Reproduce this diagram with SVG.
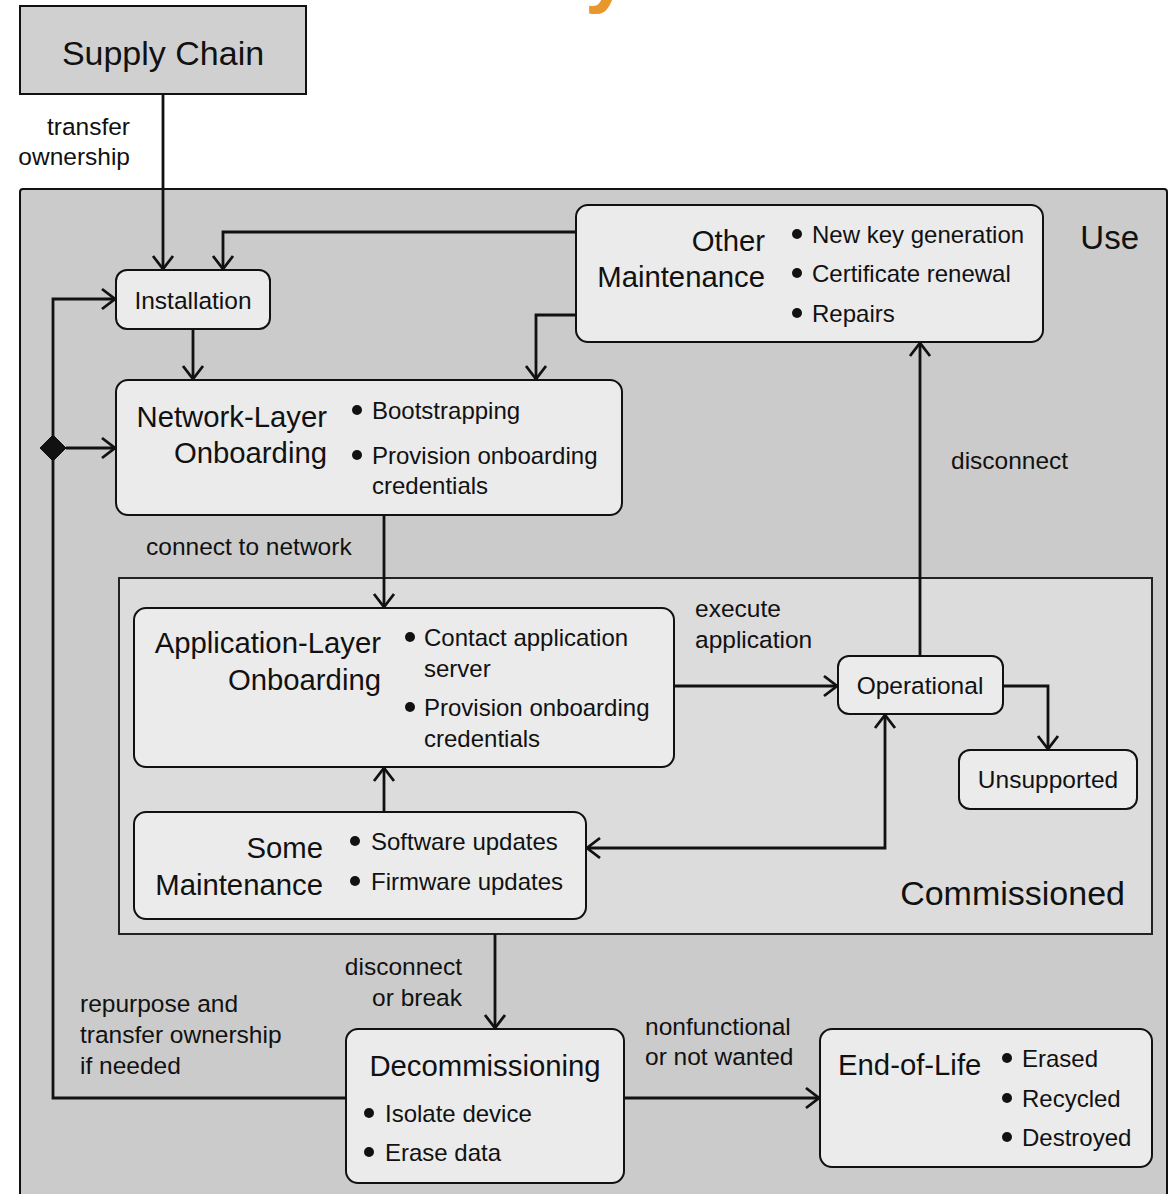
<svg xmlns="http://www.w3.org/2000/svg" width="1172" height="1194" viewBox="0 0 1172 1194">
<style>
text{font-family:"Liberation Sans",Arial,sans-serif;fill:#111}
.h{font-size:29.3px}
.b{font-size:24px}
.l{font-size:24.5px}
.r{text-anchor:end}
.c{text-anchor:middle}
.node{fill:#ebebeb;stroke:#111;stroke-width:2}
.conn path{fill:none;stroke:#111;stroke-width:2.8}
.dot{fill:#111}
</style>
<defs>
<marker id="ah" viewBox="-16 -12 18 24" refX="0" refY="0" markerWidth="18" markerHeight="24" markerUnits="userSpaceOnUse" orient="auto-start-reverse">
<path d="M-13,-10 L0,0 L-13,10" fill="none" stroke="#111" stroke-width="2.8"/>
</marker>
</defs>
<rect width="1172" height="1194" fill="#fff"/>
<text x="585" y="-3" style="font-size:80px;font-weight:bold;fill:#e8982a">y</text>

<g id="supply-chain">
<rect x="20" y="6" width="286" height="88" fill="#d0d0d0" stroke="#111" stroke-width="2"/>
<text x="163" y="65" class="c" style="font-size:34px">Supply Chain</text>
</g>

<g id="use">
<rect x="20" y="189" width="1147" height="1015" rx="3" fill="#cbcbcb" stroke="#111" stroke-width="2"/>
<text x="1139" y="249" class="r" style="font-size:33px">Use</text>
</g>

<g id="commissioned">
<rect x="119" y="578" width="1033" height="356" fill="#dcdcdc" stroke="#222" stroke-width="2"/>
<text x="1125" y="905" class="r" style="font-size:34px">Commissioned</text>
</g>

<g id="installation">
<rect class="node" x="116" y="270" width="154" height="59" rx="11"/>
<text x="193" y="309" class="c l">Installation</text>
</g>

<g id="other-maintenance">
<rect class="node" x="576" y="205" width="467" height="137" rx="12"/>
<text x="765" y="251" class="h r">Other</text>
<text x="765" y="287" class="h r">Maintenance</text>
<circle class="dot" cx="797" cy="234" r="5"/>
<circle class="dot" cx="797" cy="273" r="5"/>
<circle class="dot" cx="797" cy="313" r="5"/>
<text x="812" y="243" class="b">New key generation</text>
<text x="812" y="282" class="b">Certificate renewal</text>
<text x="812" y="322" class="b">Repairs</text>
</g>

<g id="network-layer-onboarding">
<rect class="node" x="116" y="380" width="506" height="135" rx="12"/>
<text x="327" y="427" class="h r">Network-Layer</text>
<text x="327" y="463" class="h r">Onboarding</text>
<circle class="dot" cx="357" cy="410" r="5"/>
<circle class="dot" cx="357" cy="455" r="5"/>
<text x="372" y="419" class="b">Bootstrapping</text>
<text x="372" y="464" class="b">Provision onboarding</text>
<text x="372" y="494" class="b">credentials</text>
</g>

<g id="application-layer-onboarding">
<rect class="node" x="134" y="608" width="540" height="159" rx="12"/>
<text x="381" y="653" class="h r">Application-Layer</text>
<text x="381" y="690" class="h r">Onboarding</text>
<circle class="dot" cx="410" cy="637" r="5"/>
<circle class="dot" cx="410" cy="707" r="5"/>
<text x="424" y="646" class="b">Contact application</text>
<text x="424" y="677" class="b">server</text>
<text x="424" y="716" class="b">Provision onboarding</text>
<text x="424" y="747" class="b">credentials</text>
</g>

<g id="operational">
<rect class="node" x="838" y="656" width="165" height="58" rx="11"/>
<text x="920" y="694" class="c l">Operational</text>
</g>

<g id="unsupported">
<rect class="node" x="959" y="750" width="178" height="59" rx="11"/>
<text x="1048" y="788" class="c l">Unsupported</text>
</g>

<g id="some-maintenance">
<rect class="node" x="134" y="812" width="452" height="107" rx="12"/>
<text x="323" y="858" class="h r">Some</text>
<text x="323" y="895" class="h r">Maintenance</text>
<circle class="dot" cx="355" cy="841" r="5"/>
<circle class="dot" cx="355" cy="881" r="5"/>
<text x="371" y="850" class="b">Software updates</text>
<text x="371" y="890" class="b">Firmware updates</text>
</g>

<g id="decommissioning">
<rect class="node" x="346" y="1029" width="278" height="154" rx="12"/>
<text x="485" y="1076" class="c h">Decommissioning</text>
<circle class="dot" cx="369" cy="1113" r="5"/>
<circle class="dot" cx="369" cy="1152" r="5"/>
<text x="385" y="1122" class="b">Isolate device</text>
<text x="385" y="1161" class="b">Erase data</text>
</g>

<g id="end-of-life">
<rect class="node" x="820" y="1029" width="332" height="138" rx="12"/>
<text x="838" y="1075" class="h">End-of-Life</text>
<circle class="dot" cx="1007" cy="1058" r="5"/>
<circle class="dot" cx="1007" cy="1098" r="5"/>
<circle class="dot" cx="1007" cy="1137" r="5"/>
<text x="1022" y="1067" class="b">Erased</text>
<text x="1022" y="1107" class="b">Recycled</text>
<text x="1022" y="1146" class="b">Destroyed</text>
</g>

<g id="connectors" class="conn">
<path d="M163,94 V269" marker-end="url(#ah)"/>
<path d="M576,232 H223 V269" marker-end="url(#ah)"/>
<path d="M576,315 H536 V379" marker-end="url(#ah)"/>
<path d="M193,329 V379" marker-end="url(#ah)"/>
<path d="M346,1098 H53 V299 H115" marker-end="url(#ah)"/>
<path d="M66,448 H115" marker-end="url(#ah)"/>
<polygon points="53,435 66,448 53,461 40,448" fill="#111" stroke="#111" stroke-width="1"/>
<path d="M384,515 V607" marker-end="url(#ah)"/>
<path d="M674,686 H837" marker-end="url(#ah)"/>
<path d="M920,656 V343" marker-end="url(#ah)"/>
<path d="M1003,686 H1048 V749" marker-end="url(#ah)"/>
<path d="M384,812 V768" marker-end="url(#ah)"/>
<path d="M587,848 H885 V715" marker-start="url(#ah)" marker-end="url(#ah)"/>
<path d="M495,934 V1028" marker-end="url(#ah)"/>
<path d="M624,1098 H819" marker-end="url(#ah)"/>
<text x="130" y="135" class="r l">transfer</text>
<text x="130" y="165" class="r l">ownership</text>
<text x="146" y="555" class="l">connect to network</text>
<text x="695" y="617" class="l">execute</text>
<text x="695" y="648" class="l">application</text>
<text x="951" y="469" class="l">disconnect</text>
<text x="462" y="975" class="r l">disconnect</text>
<text x="462" y="1006" class="r l">or break</text>
<text x="80" y="1012" class="l">repurpose and</text>
<text x="80" y="1043" class="l">transfer ownership</text>
<text x="80" y="1074" class="l">if needed</text>
<text x="645" y="1035" class="l">nonfunctional</text>
<text x="645" y="1065" class="l">or not wanted</text>
</g>
</svg>
